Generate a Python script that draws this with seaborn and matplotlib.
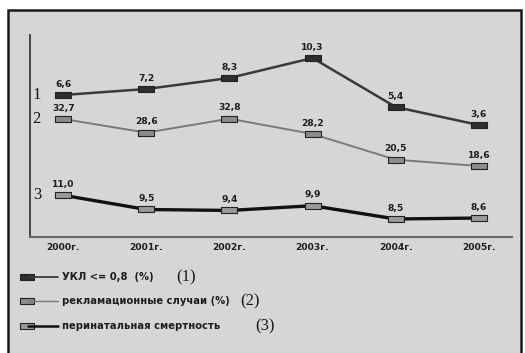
import matplotlib
matplotlib.use("Agg")
import matplotlib.pyplot as plt
import seaborn as sns
import pandas as pd
from matplotlib.patches import Rectangle
from matplotlib.lines import Line2D

# ---- data ----
years = ["2000г.", "2001г.", "2002г.", "2003г.", "2004г.", "2005г."]
ukl = [6.6, 7.2, 8.3, 10.3, 5.4, 3.6]
reclam = [32.7, 28.6, 32.8, 28.2, 20.5, 18.6]
perinat = [11.0, 9.5, 9.4, 9.9, 8.5, 8.6]
series_labels = ["УКЛ <= 0,8  (%)", "рекламационные случаи (%)", "перинатальная смертность"]
series_tags = ["(1)", "(2)", "(3)"]
side_numbers = ["1", "2", "3"]

sns.set_theme(style="white")
plt.rcParams['font.family'] = ['DejaVu Sans']

W, H = 525, 353
fig = plt.figure(figsize=(W / 100, H / 100), dpi=100)
fig.patch.set_facecolor("white")
fig.patches.append(Rectangle((8 / W, -0.01), (521 - 8) / W, 1 - 10 / H + 0.01,
                             transform=fig.transFigure, facecolor="#d6d6d6",
                             edgecolor="#1a1a1a", lw=1.8, zorder=-10))

ax1 = fig.add_axes([30 / W, 1 - 237 / H, 482 / W, 202 / H])
ax2 = ax1.twinx()
ax3 = ax1.twinx()

df = pd.DataFrame({"pos": range(len(years)), "year": years,
                   "ukl": ukl, "reclam": reclam, "perinat": perinat})

rect = [(-1, -0.4), (1, -0.4), (1, 0.4), (-1, 0.4), (-1, -0.4)]

styles = [
    (ax1, "ukl", "#3a3a3a", 1.8, "#2e2e2e", (-7.6, 12.6)),
    (ax2, "reclam", "#7a7a7a", 1.4, "#8c8c8c", (-2.7, 57.9)),
    (ax3, "perinat", "#111111", 2.4, "#9a9a9a", (6.6, 27.9)),
]

for ax, col, lc, lw, mfc, ylim in styles:
    sns.lineplot(data=df, x="pos", y=col, ax=ax, color=lc, linewidth=lw,
                 marker=rect, markersize=11, markerfacecolor=mfc,
                 markeredgecolor="#222222", markeredgewidth=0.8)
    ax.set_ylim(*ylim)
    ax.set_xlim(-0.4, 5.4)
    ax.set_ylabel("")
    ax.set_yticks([])
    for s in ax.spines.values():
        s.set_visible(False)
    ax.patch.set_visible(False)
    for x, v in zip(df["pos"], df[col]):
        ax.annotate(f"{v:.1f}".replace(".", ","), (x, v), xytext=(0, 4.5),
                    textcoords="offset points", ha="center", va="bottom",
                    fontsize=6.6, fontweight="bold", color="#1e1e1e")

ax1.spines["left"].set_visible(True)
ax1.spines["left"].set_color("#3a3a3a")
ax1.spines["left"].set_linewidth(1.3)
ax1.spines["bottom"].set_visible(True)
ax1.spines["bottom"].set_color("#6a6a6a")
ax1.spines["bottom"].set_linewidth(1.5)
ax1.set_xlabel("")
ax1.set_xticks(df["pos"])
ax1.set_xticklabels(years, fontsize=6.6, fontweight="bold", color="#1e1e1e")
ax1.tick_params(axis="x", length=0, pad=4)
for ax in (ax2, ax3):
    ax.tick_params(axis="x", length=0)

# side series numbers
for num, yv, ax in zip(side_numbers, [ukl[0], reclam[0], perinat[0]], [ax1, ax2, ax3]):
    ax.annotate(num, (0, yv), xytext=(-19, 0), textcoords="offset points",
                ha="center", va="center", fontsize=12,
                family=["Liberation Serif"], color="#1a1a1a")

# manual legend
leg_y = [277, 301, 326]
handle_styles = [("#3a3a3a", 1.3, "#2e2e2e"), ("#7a7a7a", 1.0, "#8c8c8c"), ("#111111", 1.8, "#9a9a9a")]
tag_x = [176, 240, 255]
for yy, lab, tag, (lc, lw, mfc), tx in zip(leg_y, series_labels, series_tags, handle_styles, tag_x):
    yf = 1 - yy / H
    fig.add_artist(Line2D([28 / W, 58 / W], [yf, yf], transform=fig.transFigure,
                          color=lc, lw=lw))
    fig.add_artist(Rectangle((20 / W, yf - 3 / H), 14 / W, 6 / H, transform=fig.transFigure,
                             facecolor=mfc, edgecolor="#222222", lw=0.8))
    fig.text(62 / W, yf, lab, fontsize=7.2, fontweight="bold", color="#1e1e1e",
             ha="left", va="center")
    fig.text(tx / W, yf, tag, fontsize=12, family=["Liberation Serif"],
             color="#1a1a1a", ha="left", va="center")

fig.savefig("out.png", dpi=100)
